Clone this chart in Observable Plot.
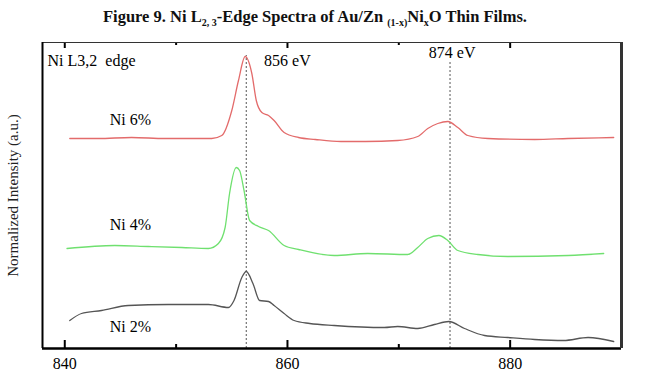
<!DOCTYPE html>
<html><head><meta charset="utf-8">
<script src="https://cdn.jsdelivr.net/npm/d3@7"></script>
<script src="https://cdn.jsdelivr.net/npm/@observablehq/plot@0.6"></script>
<style>
body{margin:0;background:#fff;}
#title{height:30px;box-sizing:border-box;padding-top:9px;padding-right:16px;font:bold 16.5px "Liberation Serif",serif;line-height:16px;text-align:center;color:#111;white-space:nowrap;}
#title sub{font-size:10px;line-height:0;vertical-align:-4px;}
</style></head><body>
<div id="title">Figure 9. Ni L<sub>2, 3</sub>-Edge Spectra of Au/Zn <sub>(1-x)</sub>Ni<sub>x</sub>O Thin Films.</div>
<div id="chart"></div>
<script>
// Energy (eV) and normalized intensity (a.u., offset stacked) for each sample
const energyNi6 = [840.45,843,846,849,853.2,854.1,855.0,855.6,856.2,856.8,857.2,857.7,858.3,858.8,859.7,861.0,862.5,864.8,867,869.9,871.7,872.6,873.5,874.4,875.3,876.2,878.0,882.2,885.2,889.3];
const intensityNi6 = [210,210,211,210,210,213,238,268,292,275,248,236,233,228,216,211,209,207,207,208,212,220,225,227,221,213,210,209,210,211];

const energyNi4 = [840.2,844.5,847.5,850.5,852.9,853.8,854.4,854.8,855.4,855.7,856.1,856.6,857.4,858.3,859.7,861.0,864.2,867.2,870.8,871.7,872.6,873.6,874.4,875.3,877.1,879.8,885.2,888.4];
const intensityNi4 = [100,103,102,101,100,105,121,155,181,178,158,128,122,118,103,99,93,95,94,101,110,113,108,98,94,92,93,95];

const energyNi2 = [840.45,841.5,843.3,845.7,849.3,852.9,854.7,855.2,855.9,856.3,856.9,857.5,858.3,858.8,859.7,860.6,862,864.2,868.7,869.9,871.7,873.2,874.5,875.9,877.7,879.8,882.2,884.8,887,889.3];
const intensityNi2 = [28,35,38,43,44,44,41,48,71,77,65,48,47,43,35,28,25,23,21,22,20,24,27,20,13,11,9,8,11,7];

const seriesNames = ["Ni 6%","Ni 4%","Ni 2%"];
const seriesColors = ["#e36b6b","#6fe06f","#555555"];
const labelEnergy = [845.9,845.9,845.9];
const labelIntensity = [229,124,22];

const edgeEnergies = [856.3,874.6];
const edgeTops = [293,286];
const edgeLabels = ["856 eV","874 eV"];
const edgeLabelEnergy = [857.9,872.7];
const edgeLabelIntensity = [288,296];

const panelLabel = "Ni L3,2  edge";
const yTitle = "Normalized Intensity (a.u.)";
const xDomain = [838,890];
const yDomain = [0,306];
const majorTicks = [840,860,880];
const minorTicks = [850,870];

const rows = [];
[[energyNi6,intensityNi6],[energyNi4,intensityNi4],[energyNi2,intensityNi2]].forEach(([E,I],k)=>{
  E.forEach((e,i)=>rows.push({s:seriesNames[k],e,v:I[i]}));
});
const labels = seriesNames.map((s,i)=>({s,e:labelEnergy[i],v:labelIntensity[i]}));
const edges = edgeEnergies.map((e,i)=>({e,top:edgeTops[i],label:edgeLabels[i],le:edgeLabelEnergy[i],lv:edgeLabelIntensity[i]}));

const chart = Plot.plot({
  width:646, height:356,
  marginTop:12, marginBottom:38, marginLeft:42, marginRight:25,
  x:{domain:xDomain},
  y:{domain:yDomain, axis:null},
  color:{domain:seriesNames, range:seriesColors},
  style:{fontFamily:'"Liberation Serif", serif', fontSize:"16px", color:"#000", background:"#fff", overflow:"visible"},
  marks:[
    Plot.axisX({ticks:majorTicks, tickSize:0, tickPadding:9, label:null, fontSize:16, tickFormat:d=>String(d)}),
    Plot.ruleX(edges,{x:"e", y1:yDomain[0], y2:"top", stroke:"#555", strokeWidth:1, strokeDasharray:"2,2"}),
    Plot.line(rows,{x:"e", y:"v", z:"s", stroke:"s", curve:"monotone-x", strokeWidth:1.3}),
    Plot.ruleX(majorTicks,{y1:yDomain[0], y2:yDomain[0]+8, stroke:"#000", strokeWidth:2}),
    Plot.ruleX(minorTicks,{y1:yDomain[0], y2:yDomain[0]+4, stroke:"#000", strokeWidth:2}),
    Plot.ruleX(majorTicks,{y1:yDomain[1], y2:yDomain[1]-6, stroke:"#000", strokeWidth:2}),
    Plot.ruleX(minorTicks,{y1:yDomain[1], y2:yDomain[1]-3, stroke:"#000", strokeWidth:2}),
    Plot.ruleY([yDomain[1]],{stroke:"#333", strokeWidth:1.2}),
    Plot.ruleX([xDomain[0]],{stroke:"#000", strokeWidth:2}),
    Plot.ruleY([yDomain[0]],{stroke:"#000", strokeWidth:2.5}),
    Plot.ruleX([xDomain[1]],{stroke:"#333", strokeWidth:3}),
    Plot.text(labels,{x:"e", y:"v", text:"s", fontSize:16, fill:"#000"}),
    Plot.text(edges,{x:"le", y:"lv", text:"label", textAnchor:"start", fontSize:16, fill:"#000"}),
    Plot.text([panelLabel],{x:xDomain[0], y:288, text:d=>d, textAnchor:"start", dx:5, fontSize:16, fill:"#000"}),
    Plot.text([yTitle],{text:d=>d, frameAnchor:"left", textAnchor:"middle", rotate:-90, dx:-29, fontSize:15, fill:"#222"})
  ]
});
document.getElementById("chart").appendChild(chart);
</script>
</body></html>
